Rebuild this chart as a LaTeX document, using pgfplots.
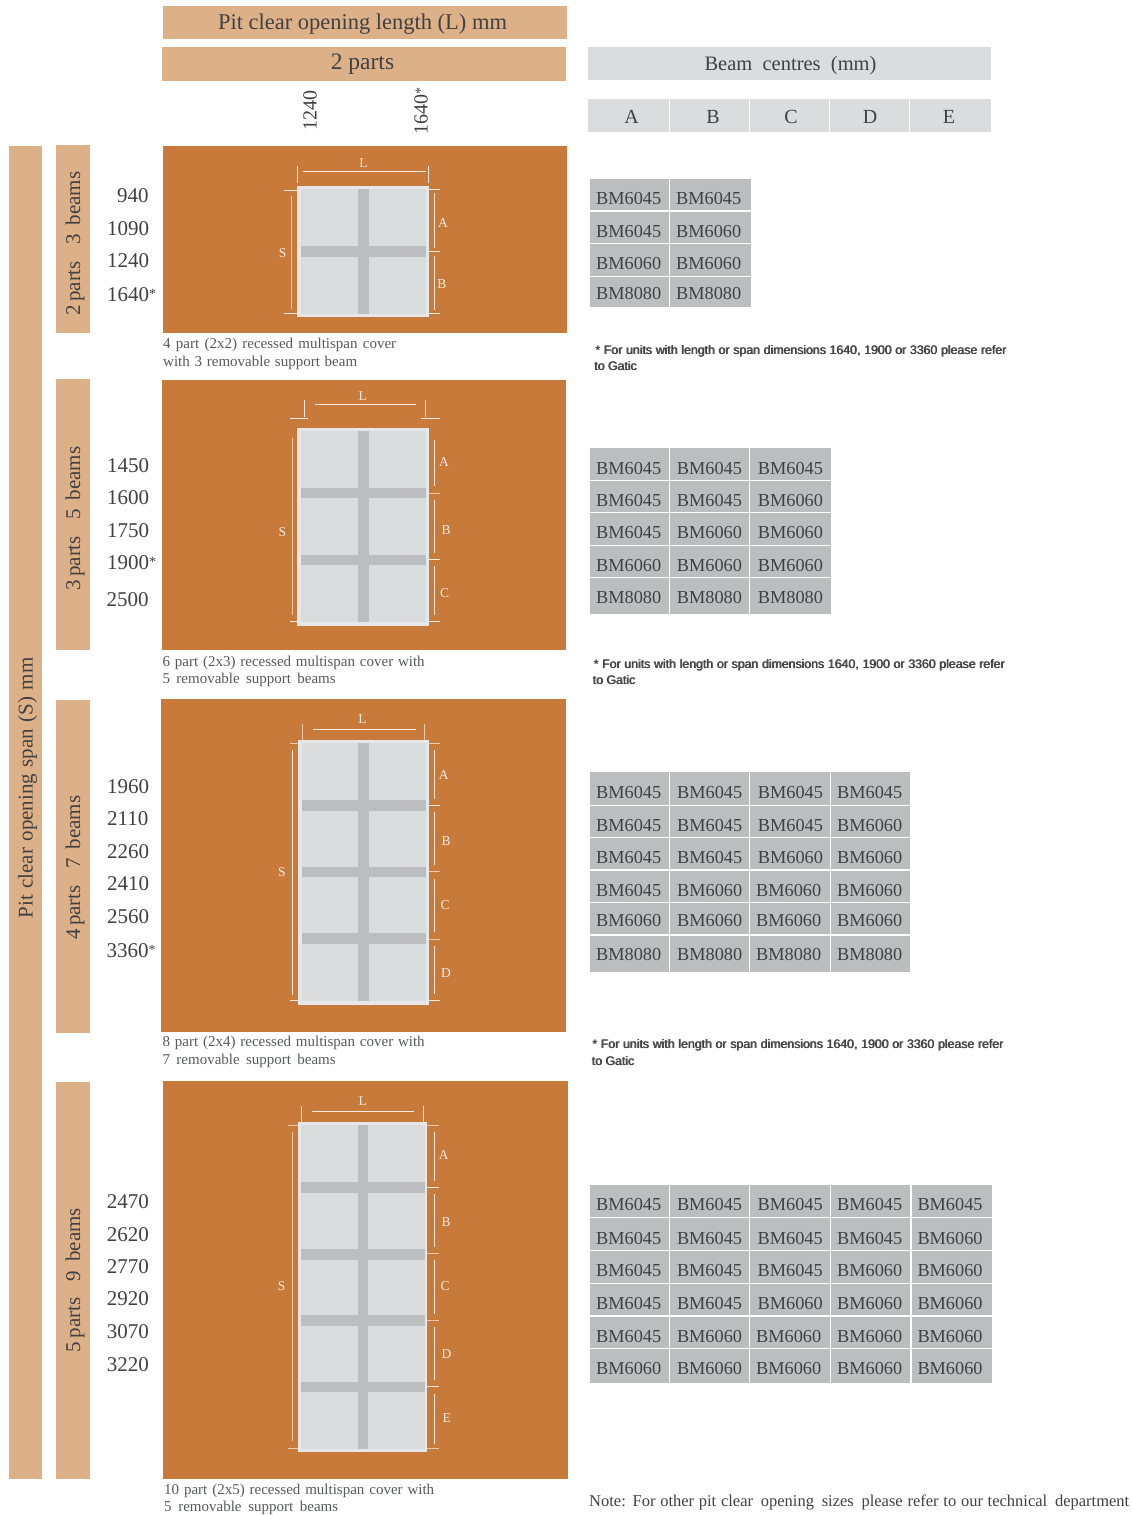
\documentclass[border=0pt]{standalone}
\usepackage{fontspec}
\setmainfont{Liberation Serif}
\newfontfamily\notefont{Liberation Sans}
\usepackage{pgfplots}
\usepackage{pgfplotstable}
\pgfplotsset{compat=1.18}

\definecolor{tan}{HTML}{DDB188}
\definecolor{rust}{HTML}{C77A3A}
\definecolor{cellgrey}{HTML}{BCBDBF}
\definecolor{headgrey}{HTML}{DBDCDE}
\definecolor{outerpanel}{HTML}{E6E7E8}
\definecolor{innerpanel}{HTML}{DADBDD}
\definecolor{ink}{HTML}{414042}
\definecolor{capink}{HTML}{58595B}
\definecolor{dimline}{HTML}{F8ECE2}
\definecolor{dimpeach}{HTML}{EFC8AB}

% all coordinates are pixels of the reference, 1px = 1pt
\newcommand{\rect}[5]{\addplot[fill=#5,draw=none] coordinates {(#1,#2) (#3,#2) (#3,#4) (#1,#4)} --cycle;}
\newcommand{\seg}[5][dimline]{\addplot[color=#1,line width=1pt] coordinates {(#2,#3) (#4,#5)};}
\newcommand{\gap}[4]{\addplot[color=white,line width=1.3pt] coordinates {(#1,#2) (#3,#4)};}
\newcommand{\fs}[1]{\fontsize{#1}{#1}\selectfont}
\protected\def\st{\raisebox{2.8pt}{\fs{14}*}}
\newcommand{\txt}[5][]{\node[inner sep=0pt,anchor=base west,text=ink,font=\fs{#4},#1] at (axis cs:#2,#3) {#5};}
\newcommand{\ctxt}[5][]{\node[inner sep=0pt,anchor=base,text=ink,font=\fs{#4},#1] at (axis cs:#2,#3) {#5};}
\newcommand{\dimlab}[3]{\node[inner sep=0pt,text=dimline,font=\fs{13.5},xshift=0.7pt,yshift=-0.8pt] at (axis cs:#1,#2) {#3};}
\newcommand{\capt}[3]{\txt[text=capink]{#1}{#2}{15}{#3}}
\newcommand{\note}[3]{%
  \node[inner sep=0pt,anchor=base west,text=ink,font=\notefont\fs{12.3}] at (axis cs:#1,#2) {#3};
  \node[inner sep=0pt,anchor=base west,text=ink,font=\notefont\fs{12.3}] at (axis cs:#1+0.7,#2) {#3};}
% rotated group label, two words set apart
\newcommand{\grouplab}[3]{\txt[rotate=90]{80.2}{#1}{21}{\makebox[54pt][s]{#2}\hspace{17pt}\makebox[73pt][s]{#3}}}

\pgfplotstableread{
x y m
596 204 BM6045
676 204 BM6045
596 237.3 BM6045
676 237.3 BM6060
596 269 BM6060
676 269 BM6060
596 299.3 BM8080
676 299.3 BM8080
596 474 BM6045
676.7 474 BM6045
757.7 474 BM6045
596 506.7 BM6045
676.7 506.7 BM6045
757.7 506.7 BM6060
596 538.3 BM6045
676.7 538.3 BM6060
757.7 538.3 BM6060
596 571.7 BM6060
676.7 571.7 BM6060
757.7 571.7 BM6060
596 603.3 BM8080
676.7 603.3 BM8080
757.7 603.3 BM8080
596 798.3 BM6045
677 798.3 BM6045
757.7 798.3 BM6045
837 798.3 BM6045
596 831 BM6045
677 831 BM6045
757.7 831 BM6045
837 831 BM6060
596 863.3 BM6045
677 863.3 BM6045
757.7 863.3 BM6060
837 863.3 BM6060
596 896 BM6045
677 896 BM6060
756 896 BM6060
837 896 BM6060
596 926.3 BM6060
677 926.3 BM6060
756 926.3 BM6060
837 926.3 BM6060
596 960.3 BM8080
677 960.3 BM8080
756 960.3 BM8080
837 960.3 BM8080
596 1210 BM6045
676.8 1210 BM6045
757.5 1210 BM6045
837 1210 BM6045
917.3 1210 BM6045
596 1244 BM6045
676.8 1244 BM6045
757.5 1244 BM6045
837 1244 BM6045
917.3 1244 BM6060
596 1276 BM6045
676.8 1276 BM6045
757.5 1276 BM6045
837 1276 BM6060
917.3 1276 BM6060
596 1309 BM6045
676.8 1309 BM6045
757.5 1309 BM6060
837 1309 BM6060
917.3 1309 BM6060
596 1342 BM6045
676.8 1342 BM6060
756 1342 BM6060
837 1342 BM6060
917.3 1342 BM6060
596 1374 BM6060
676.8 1374 BM6060
756 1374 BM6060
837 1374 BM6060
917.3 1374 BM6060
}\bmcells

\pgfplotstableread{
x y m
117 202 940
107 235 1090
107 267.3 1240
107 301 1640\st
107 472 1450
107 504.3 1600
107 537 1750
107 569.3 1900\st
106.5 606 2500
107 793 1960
107 825 2110
107 858 2260
107 890 2410
107 923 2560
106.5 957 3360\st
106.7 1208.3 2470
106.7 1241.3 2620
106.7 1273.3 2770
106.7 1305.3 2920
106.7 1338 3070
106.7 1371.3 3220
}\spansizes

\begin{document}
\begin{tikzpicture}
\begin{axis}[
    scale only axis,
    width=1132pt, height=1515pt,
    xmin=0, xmax=1132,
    ymin=0, ymax=1515,
    y dir=reverse,
    hide axis,
    clip=false,
    labelled/.style={only marks, mark=none, nodes near coords, point meta=explicit symbolic,
        every node near coord/.append style={anchor=base west, inner sep=0pt, text=ink, font=\fs{#1}}},
]
\rect{0}{0}{1132}{1515}{white}

% headers
\rect{163}{6}{567}{39}{tan}
\rect{162}{47}{566}{81}{tan}
\rect{588}{47}{991}{80}{headgrey}
\rect{588}{99}{991}{132}{headgrey}
\gap{669.5}{99}{669.5}{132}
\gap{749.7}{99}{749.7}{132}
\gap{829.8}{99}{829.8}{132}
\gap{909.8}{99}{909.8}{132}
\ctxt{362.5}{29.3}{22.5}{\makebox[289pt][s]{Pit clear opening length (L) mm}}
\ctxt{362.5}{69.3}{23.5}{2 parts}
\ctxt{790.5}{70.7}{20.5}{\makebox[172pt][s]{Beam  centres  (mm)}}
\ctxt{631.5}{123.3}{20}{A}
\ctxt{713}{123.3}{20}{B}
\ctxt{791}{123.3}{20}{C}
\ctxt{870}{123.3}{20}{D}
\ctxt{949}{123.3}{20}{E}
\txt[rotate=90]{316.6}{131}{20}{1240}
\txt[rotate=90]{427.7}{134.7}{20}{1640\st}

% left side bars
\rect{9}{146}{42}{1479}{tan}
\rect{56}{145}{90}{333}{tan}
\rect{56}{379}{90}{650}{tan}
\rect{56}{700}{90}{1033}{tan}
\rect{56}{1082}{90}{1479}{tan}
\ctxt[rotate=90]{32.5}{788}{21}{\makebox[261pt][s]{Pit clear opening span (S) mm}}
\grouplab{316}{2 parts}{3 beams}
\grouplab{591}{3 parts}{5 beams}
\grouplab{940}{4 parts}{7 beams}
\grouplab{1352.3}{5 parts}{9 beams}

% orange drawing panels
\rect{163}{146}{567}{333}{rust}
\rect{162}{380}{566}{650}{rust}
\rect{161}{699}{566}{1032}{rust}
\rect{163}{1081}{568}{1479}{rust}

% panel 1, 2x2
\rect{297}{186}{428.5}{316.7}{outerpanel}
\rect{300.7}{189.3}{425.6}{313.7}{innerpanel}
\rect{357.7}{189.3}{368.6}{313.7}{cellgrey}
\rect{300.7}{246}{425.6}{256.7}{cellgrey}
\seg{302.5}{171.3}{425.6}{171.3}
\seg{297.8}{166}{297.8}{183.3}
\seg{428.8}{166}{428.8}{183.3}
\seg{283.6}{190.3}{297}{190.3}
\seg{283.6}{313}{297}{313}
\seg[dimpeach]{291.6}{195.7}{291.6}{309.3}
\seg{428.5}{189.3}{440}{189.3}
\seg{428.5}{251}{440}{251}
\seg{428.5}{313}{440}{313}
\seg{434.3}{193.3}{434.3}{248.3}
\seg{434.3}{256}{434.3}{310}
\dimlab{362.7}{162.7}{L}
\dimlab{282}{252.3}{S}
\dimlab{442.3}{222.7}{A}
\dimlab{441.2}{283.7}{B}

% panel 2, 2x3
\rect{297.3}{427.7}{428.7}{625.7}{outerpanel}
\rect{301.3}{431}{425.7}{621.7}{innerpanel}
\rect{358}{431}{369}{621.7}{cellgrey}
\rect{301.3}{488}{425.7}{497.7}{cellgrey}
\rect{301.3}{555}{425.7}{564.7}{cellgrey}
\seg{315}{404.3}{416}{404.3}
\seg{304.3}{400}{304.3}{416.7}
\seg[dimpeach]{425}{400}{425}{416.7}
\seg{290}{418.3}{307.7}{418.3}
\seg{421.3}{418.3}{439.7}{418.3}
\seg[dimpeach]{292}{438.3}{292}{615}
\seg{290}{621.3}{297.3}{621.3}
\seg[dimpeach]{428.7}{493}{439.7}{493}
\seg{428.7}{559.3}{439.7}{559.3}
\seg{428.7}{621.3}{439.7}{621.3}
\seg{434.3}{440}{434.3}{486}
\seg{434.3}{500}{434.3}{552.7}
\seg{434.3}{566}{434.3}{615}
\dimlab{362}{395.7}{L}
\dimlab{281.7}{531.7}{S}
\dimlab{443.3}{461.7}{A}
\dimlab{445.3}{529.7}{B}
\dimlab{444}{592.7}{C}

% panel 3, 2x4
\rect{298.3}{740}{429}{1004.7}{outerpanel}
\rect{302.3}{743.3}{425.7}{1000.7}{innerpanel}
\rect{358.3}{743.3}{369}{1000.7}{cellgrey}
\rect{302.3}{800.3}{425.7}{810.7}{cellgrey}
\rect{302.3}{867}{425.7}{877}{cellgrey}
\rect{302.3}{933.3}{425.7}{943.7}{cellgrey}
\seg{312.7}{729.3}{415.7}{729.3}
\seg[dimpeach]{302.3}{724}{302.3}{740}
\seg[dimpeach]{424.7}{724}{424.7}{740}
\seg[dimpeach]{289.7}{743.7}{298.3}{743.7}
\seg{289.7}{1000.3}{298.3}{1000.3}
\seg{292.7}{750.3}{292.7}{995}
\seg[dimpeach]{429}{743.7}{440}{743.7}
\seg{429}{805.3}{440}{805.3}
\seg[dimpeach]{429}{871.7}{440}{871.7}
\seg[dimpeach]{429}{939}{440}{939}
\seg{429}{1000.3}{440}{1000.3}
\seg{434.3}{750.3}{434.3}{798.7}
\seg{434.3}{812}{434.3}{865}
\seg{434.3}{878.7}{434.3}{932}
\seg{434.3}{945.7}{434.3}{994}
\dimlab{361.7}{718.3}{L}
\dimlab{281.3}{871.7}{S}
\dimlab{443}{774}{A}
\dimlab{445.3}{840.7}{B}
\dimlab{444.3}{904.7}{C}
\dimlab{445.3}{972.7}{D}

% panel 4, 2x5
\rect{298}{1122}{427.3}{1452.3}{outerpanel}
\rect{301.3}{1125.3}{424.7}{1448.7}{innerpanel}
\rect{357.7}{1125.3}{367.7}{1448.7}{cellgrey}
\rect{301.3}{1182}{424.7}{1192.7}{cellgrey}
\rect{301.3}{1249}{424.7}{1259.7}{cellgrey}
\rect{301.3}{1315}{424.7}{1325.7}{cellgrey}
\rect{301.3}{1382}{424.7}{1391.7}{cellgrey}
\seg{312}{1111}{414.3}{1111}
\seg{301.3}{1106.3}{301.3}{1122}
\seg{423.3}{1106.3}{423.3}{1122}
\seg[dimpeach]{288.3}{1125.7}{298}{1125.7}
\seg[dimpeach]{288.3}{1448.7}{298}{1448.7}
\seg[dimpeach]{292}{1132.3}{292}{1441}
\seg[dimpeach]{427.3}{1125.7}{438.7}{1125.7}
\seg{427.3}{1187.3}{438.7}{1187.3}
\seg[dimpeach]{427.3}{1253.7}{438.7}{1253.7}
\seg[dimpeach]{427.3}{1320.7}{438.7}{1320.7}
\seg{427.3}{1386.3}{438.7}{1386.3}
\seg[dimpeach]{427.3}{1448.7}{438.7}{1448.7}
\seg{434.3}{1132.3}{434.3}{1181}
\seg{434.3}{1194}{434.3}{1247}
\seg{434.3}{1260.3}{434.3}{1313.7}
\seg{434.3}{1327.3}{434.3}{1380}
\seg{434.3}{1393.7}{434.3}{1444.3}
\dimlab{362}{1100.7}{L}
\dimlab{281}{1285.7}{S}
\dimlab{443}{1154.3}{A}
\dimlab{445.3}{1221.7}{B}
\dimlab{444.3}{1285.3}{C}
\dimlab{445.7}{1353.3}{D}
\dimlab{446}{1417.7}{E}

% captions
\capt{163}{348}{\makebox[233pt][s]{4 part  (2x2)  recessed multispan cover}}
\capt{163}{366}{\makebox[194pt][s]{with 3 removable support beam}}
\capt{162.5}{666}{\makebox[262pt][s]{6 part  (2x3)  recessed  multispan  cover  with}}
\capt{162.5}{683.3}{\makebox[173pt][s]{5 removable support beams}}
\capt{162.5}{1046.7}{\makebox[262pt][s]{8 part  (2x4)  recessed  multispan  cover  with}}
\capt{162.5}{1064.7}{\makebox[173pt][s]{7 removable support beams}}
\capt{164}{1494}{\makebox[270pt][s]{10 part  (2x5)  recessed  multispan  cover  with}}
\capt{164}{1511.5}{\makebox[174pt][s]{5 removable support beams}}

% beam size tables
\rect{590}{179}{751}{307}{cellgrey}
\gap{669.5}{179}{669.5}{307}
\gap{590}{211}{751}{211}
\gap{590}{243.5}{751}{243.5}
\gap{590}{276.5}{751}{276.5}

\rect{590}{448}{831}{614}{cellgrey}
\gap{669.5}{448}{669.5}{614}
\gap{749.5}{448}{749.5}{614}
\gap{590}{480.5}{831}{480.5}
\gap{590}{512.5}{831}{512.5}
\gap{590}{545.5}{831}{545.5}
\gap{590}{577.5}{831}{577.5}

\rect{590}{772}{910}{972}{cellgrey}
\gap{669.5}{772}{669.5}{972}
\gap{749.5}{772}{749.5}{972}
\gap{830.5}{772}{830.5}{972}
\gap{590}{805.5}{910}{805.5}
\gap{590}{837.5}{910}{837.5}
\gap{590}{870}{910}{870}
\gap{590}{902.5}{910}{902.5}
\gap{590}{935}{910}{935}

\rect{590}{1185}{992}{1383}{cellgrey}
\gap{669.5}{1185}{669.5}{1383}
\gap{749.5}{1185}{749.5}{1383}
\gap{830.5}{1185}{830.5}{1383}
\gap{911}{1185}{911}{1383}
\gap{590}{1217.7}{992}{1217.7}
\gap{590}{1250.7}{992}{1250.7}
\gap{590}{1283.3}{992}{1283.3}
\gap{590}{1316}{992}{1316}
\gap{590}{1348.3}{992}{1348.3}

\addplot[labelled=18.3] table[x=x,y=y,meta=m] {\bmcells};
\addplot[labelled=21] table[x=x,y=y,meta=m] {\spansizes};

% notes
\note{595}{354}{\makebox[411pt][s]{* For units with length or span dimensions 1640, 1900 or 3360 please refer}}
\note{594}{370}{to Gatic}
\note{593.3}{668.3}{\makebox[411pt][s]{* For units with length or span dimensions 1640, 1900 or 3360 please refer}}
\note{592.5}{684.3}{to Gatic}
\note{592}{1048.3}{\makebox[411pt][s]{* For units with length or span dimensions 1640, 1900 or 3360 please refer}}
\note{591.5}{1065}{to Gatic}
\txt{589}{1506.7}{16.5}{\makebox[540pt][s]{Note: For other pit clear\hspace{3pt} opening\hspace{3pt} sizes\hspace{3pt} please refer to our technical\hspace{3pt} department}}
\end{axis}
\end{tikzpicture}
\end{document}
